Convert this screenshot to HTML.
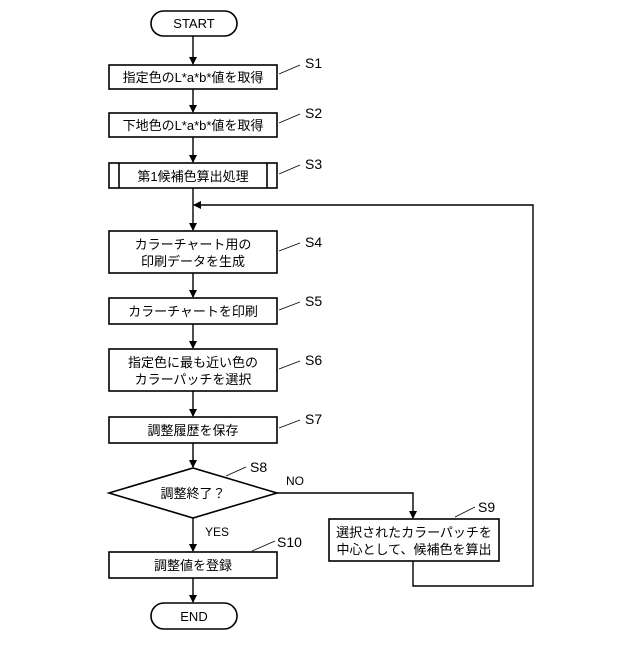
<!DOCTYPE html>
<html><head><meta charset="utf-8"><style>
body{margin:0;background:#fff}
text{font-family:"Liberation Sans","Noto Sans CJK JP",sans-serif;fill:#000}
</style></head><body>
<svg width="640" height="640" viewBox="0 0 640 640" xmlns="http://www.w3.org/2000/svg">
<defs><marker id="a" markerWidth="8" markerHeight="8" refX="7" refY="4" orient="auto" markerUnits="userSpaceOnUse"><path d="M0,0 L8,4 L0,8 z" fill="#000"/></marker></defs>
<g stroke="#000" stroke-width="1.6" fill="#fff">
<rect x="151" y="11" width="86" height="25" rx="12.5"/>
<rect x="109" y="65" width="168" height="24"/>
<rect x="109" y="113" width="168" height="24"/>
<rect x="109" y="163" width="168" height="25"/>
<line x1="119" y1="163" x2="119" y2="188"/><line x1="267" y1="163" x2="267" y2="188"/>
<rect x="109" y="231" width="168" height="42"/>
<rect x="109" y="298" width="168" height="26"/>
<rect x="109" y="349" width="168" height="42"/>
<rect x="109" y="417" width="168" height="26"/>
<polygon points="109,493 193,468 277,493 193,518"/>
<rect x="329" y="519" width="170" height="42"/>
<rect x="109" y="552" width="168" height="26"/>
<rect x="151" y="603" width="86" height="26" rx="13"/>
</g>
<g stroke="#000" stroke-width="1.4" fill="none">
<line x1="193" y1="36" x2="193" y2="64" marker-end="url(#a)"/>
<line x1="193" y1="89" x2="193" y2="112" marker-end="url(#a)"/>
<line x1="193" y1="137" x2="193" y2="162" marker-end="url(#a)"/>
<line x1="193" y1="188" x2="193" y2="230" marker-end="url(#a)"/>
<line x1="193" y1="273" x2="193" y2="297" marker-end="url(#a)"/>
<line x1="193" y1="324" x2="193" y2="348" marker-end="url(#a)"/>
<line x1="193" y1="391" x2="193" y2="416" marker-end="url(#a)"/>
<line x1="193" y1="443" x2="193" y2="467" marker-end="url(#a)"/>
<line x1="193" y1="518" x2="193" y2="551" marker-end="url(#a)"/>
<line x1="193" y1="578" x2="193" y2="602" marker-end="url(#a)"/>
<polyline points="277,493 413,493 413,518" marker-end="url(#a)"/>
<polyline points="413,561 413,586 533,586 533,205 194,205" marker-end="url(#a)"/>
</g>
<g stroke="#000" stroke-width="0.8">
<line x1="279" y1="74" x2="300" y2="65"/><line x1="279" y1="123" x2="300" y2="114"/>
<line x1="279" y1="174" x2="300" y2="165"/><line x1="279" y1="251" x2="300" y2="243"/>
<line x1="279" y1="310" x2="300" y2="302"/><line x1="279" y1="369" x2="300" y2="361"/>
<line x1="279" y1="428" x2="300" y2="420"/><line x1="226" y1="476" x2="246" y2="467"/>
<line x1="455" y1="517" x2="475" y2="507"/><line x1="252" y1="551" x2="275" y2="541"/>
</g>
<g font-size="13" text-anchor="middle">
<text x="194" y="28">START</text>
<text x="193" y="82">指定色のL*a*b*値を取得</text>
<text x="193" y="130">下地色のL*a*b*値を取得</text>
<text x="193" y="181">第1候補色算出処理</text>
<text x="193" y="249">カラーチャート用の</text>
<text x="193" y="266">印刷データを生成</text>
<text x="193" y="316">カラーチャートを印刷</text>
<text x="193" y="367">指定色に最も近い色の</text>
<text x="193" y="384">カラーパッチを選択</text>
<text x="193" y="435">調整履歴を保存</text>
<text x="193" y="498">調整終了？</text>
<text x="414" y="537">選択されたカラーパッチを</text>
<text x="414" y="554">中心として、候補色を算出</text>
<text x="193" y="570">調整値を登録</text>
<text x="194" y="621">END</text>
</g>
<g font-size="14">
<text x="305" y="68">S1</text><text x="305" y="118">S2</text><text x="305" y="169">S3</text>
<text x="305" y="247">S4</text><text x="305" y="306">S5</text><text x="305" y="365">S6</text>
<text x="305" y="424">S7</text><text x="250" y="472">S8</text><text x="478" y="512">S9</text>
<text x="277" y="547">S10</text>
</g>
<g font-size="12"><text x="286" y="485">NO</text><text x="205" y="536">YES</text></g>
</svg>
</body></html>
